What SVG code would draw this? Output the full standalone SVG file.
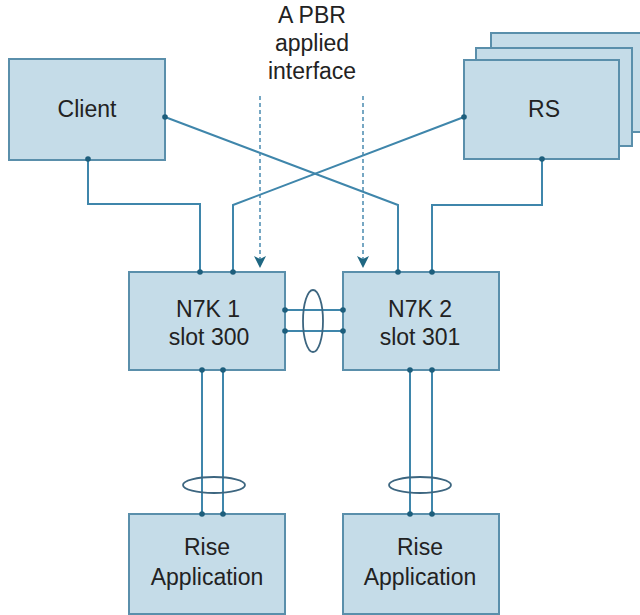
<svg xmlns="http://www.w3.org/2000/svg" width="640" height="615" viewBox="0 0 640 615">
<defs>
<style>
.box{fill:#c5dce8;stroke:#5a8fab;stroke-width:2}
.ln{fill:none;stroke:#3f86ab;stroke-width:2}
.dot{fill:#1d5e7c}
.dash{fill:none;stroke:#4a8ab0;stroke-width:1.5;stroke-dasharray:4 3}
.ell{fill:none;stroke:#3d6680;stroke-width:1.8}
.t{font-family:"Liberation Sans",Arial,sans-serif;font-size:23px;fill:#222222;text-anchor:middle}
</style>
</defs>
<rect width="640" height="615" fill="#ffffff"/>

<g id="connectors">
<polyline class="ln" points="88,159 88,204 200,204 200,272"/>
<polyline class="ln" points="165,117 398,205 398,272"/>
<polyline class="ln" points="464,117 233,205 233,272"/>
<polyline class="ln" points="542,159 542,205 432,205 432,272"/>
<line class="ln" x1="285" y1="310" x2="343" y2="310"/>
<line class="ln" x1="285" y1="331" x2="343" y2="331"/>
<line class="ln" x1="202" y1="370" x2="202" y2="514"/>
<line class="ln" x1="223" y1="370" x2="223" y2="514"/>
<line class="ln" x1="410" y1="370" x2="410" y2="514"/>
<line class="ln" x1="432" y1="370" x2="432" y2="514"/>
<ellipse class="ell" cx="313" cy="321" rx="10" ry="31"/>
<ellipse class="ell" cx="214" cy="485" rx="31" ry="8"/>
<ellipse class="ell" cx="420" cy="485" rx="31" ry="8"/>
<line class="dash" x1="260" y1="96" x2="260" y2="262"/>
<line class="dash" x1="363" y1="96" x2="363" y2="262"/>
<path d="M254,256 L260,259 L266,256 L260,268 Z" fill="#1f6782"/>
<path d="M357,256 L363,259 L369,256 L363,268 Z" fill="#1f6782"/>
</g>

<g id="label-pbr">
<text class="t" x="312" y="23">A PBR</text>
<text class="t" x="312" y="51">applied</text>
<text class="t" x="312" y="79">interface</text>
</g>

<g id="client">
<rect class="box" x="9" y="59" width="156" height="101"/>
<text class="t" x="87" y="117">Client</text>
<circle class="dot" cx="165" cy="117" r="2.8"/>
<circle class="dot" cx="88" cy="159" r="2.8"/>
</g>

<g id="rs">
<rect class="box" x="491" y="33" width="152" height="99"/>
<rect class="box" x="476" y="48" width="156" height="98"/>
<rect class="box" x="464" y="60" width="155" height="99"/>
<text class="t" x="544" y="117">RS</text>
<circle class="dot" cx="464" cy="117" r="2.8"/>
<circle class="dot" cx="542" cy="159" r="2.8"/>
</g>

<g id="n7k1">
<rect class="box" x="129" y="272" width="156" height="98"/>
<text class="t" x="208" y="317">N7K 1</text>
<text class="t" x="209" y="345">slot 300</text>
<circle class="dot" cx="200" cy="272" r="2.8"/>
<circle class="dot" cx="233" cy="272" r="2.8"/>
<circle class="dot" cx="285" cy="310" r="2.8"/>
<circle class="dot" cx="285" cy="331" r="2.8"/>
<circle class="dot" cx="202" cy="370" r="2.8"/>
<circle class="dot" cx="223" cy="370" r="2.8"/>
</g>

<g id="n7k2">
<rect class="box" x="343" y="272" width="156" height="98"/>
<text class="t" x="420" y="317">N7K 2</text>
<text class="t" x="420" y="345">slot 301</text>
<circle class="dot" cx="398" cy="272" r="2.8"/>
<circle class="dot" cx="432" cy="272" r="2.8"/>
<circle class="dot" cx="343" cy="310" r="2.8"/>
<circle class="dot" cx="343" cy="331" r="2.8"/>
<circle class="dot" cx="410" cy="370" r="2.8"/>
<circle class="dot" cx="432" cy="370" r="2.8"/>
</g>

<g id="rise1">
<rect class="box" x="129" y="514" width="156" height="100"/>
<text class="t" x="207" y="555">Rise</text>
<text class="t" x="207" y="585">Application</text>
<circle class="dot" cx="202" cy="514" r="2.8"/>
<circle class="dot" cx="223" cy="514" r="2.8"/>
</g>

<g id="rise2">
<rect class="box" x="343" y="514" width="156" height="100"/>
<text class="t" x="420" y="555">Rise</text>
<text class="t" x="420" y="585">Application</text>
<circle class="dot" cx="410" cy="514" r="2.8"/>
<circle class="dot" cx="432" cy="514" r="2.8"/>
</g>
</svg>
